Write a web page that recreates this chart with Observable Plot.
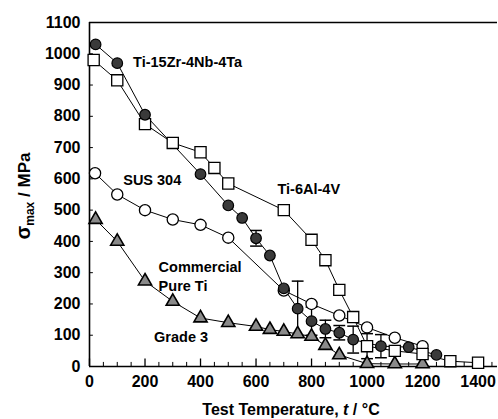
<!DOCTYPE html>
<html><head><meta charset="utf-8">
<script src="https://cdn.jsdelivr.net/npm/d3@7"></script>
<script src="https://cdn.jsdelivr.net/npm/@observablehq/plot@0.6"></script>
<style>
body{margin:0;background:#fff;}
#chart svg{display:block;}
</style></head><body><div id="chart"></div>
<script>
// ---- data ----
const tiZrT = [22,100,200,400,500,550,600,650,700,750,800,850,900,950,1050,1150,1250];
const tiZrS = [1030,970,805,615,515,475,410,355,250,185,145,120,108,86,65,62,37];
const tiZrErrT = [600,750,800,850,900,950,1050];
const tiZrErrV = [25,88,45,28,23,43,37];

const ti64T = [15,100,200,300,400,450,500,700,800,850,900,950,1000,1100,1200,1300,1400];
const ti64S = [980,915,775,715,685,635,585,500,405,340,245,158,65,50,40,17,12];
const ti64ErrT = [1000];
const ti64ErrV = [40];

const susT = [20,100,200,300,400,500,700,800,900,1000,1100,1200];
const susS = [618,550,500,470,453,412,243,200,163,125,92,65];

const cpT = [22,100,200,300,400,500,600,650,700,750,800,850,900,1000,1100,1200];
const cpS = [470,400,273,208,155,140,128,118,112,104,96,67,37,9,8,8];

const yTicks = [0,100,200,300,400,500,600,700,800,900,1000,1100];
const xMajor = [0,200,400,600,800,1000,1200,1400];
const xMinor = [50,100,150,250,300,350,450,500,550,650,700,750,850,900,950,1050,1100,1150,1250,1300,1350,1450];

const labelText = ["Ti-15Zr-4Nb-4Ta","Ti-6Al-4V","SUS 304","Commercial","Pure Ti","Grade 3"];
const labelT = [157,790,226,249,249,330];
const labelS = [971,565,595,318,257,94];
const labelAnchor = ["start","middle","middle","start","start","middle"];

const yTitle = ["σ","max"," / MPa"];
const xTitle = ["Test Temperature, ","t"," / °C"];

// ---- build ----
const mk = (T,S) => T.map((t,i)=>({t, s:S[i]}));
const tiZr = mk(tiZrT, tiZrS);
const ti64 = mk(ti64T, ti64S);
const sus = mk(susT, susS);
const cp = mk(cpT, cpS);
const errs = [
  ...tiZrErrT.map((t,i)=>({t, s: tiZrS[tiZrT.indexOf(t)], e: tiZrErrV[i]})),
  ...ti64ErrT.map((t,i)=>({t, s: ti64S[ti64T.indexOf(t)], e: ti64ErrV[i]}))
];
const labels = labelText.map((txt,i)=>({txt, t: labelT[i], s: labelS[i], a: labelAnchor[i]}));
const capSymbol = {draw(ctx, size){ const w = Math.sqrt(size)/1.2; ctx.moveTo(-w,0); ctx.lineTo(w,0);} };

const font = "'Liberation Sans', Arial, Helvetica, sans-serif";
const plot = Plot.plot({
  width: 498, height: 419,
  marginLeft: 89, marginRight: 1, marginTop: 22, marginBottom: 53,
  x: {domain: [0,1470]},
  y: {domain: [0,1100]},
  style: {fontFamily: font, fontWeight: "bold", fontSize: "16px", background: "white", color: "black"},
  marks: [
    Plot.ruleY([1100], {stroke: "black", strokeWidth: 1.6}),
    Plot.ruleX([0], {stroke: "black", strokeWidth: 1.6}),
    Plot.ruleY([0], {stroke: "black", strokeWidth: 1.6}),
    Plot.ruleY(yTicks, {y: d=>d, x1: 0, x2: 14, stroke: "black"}),
    Plot.ruleX(xMinor, {x: d=>d, y1: 0, y2: 13, stroke: "black"}),
    Plot.ruleX(xMajor, {x: d=>d, y1: 0, y2: 24, stroke: "black", strokeWidth: 1.3}),
    Plot.axisY({ticks: yTicks, tickFormat: d => String(d), tickSize: 0, tickPadding: 9, label: null, fontSize: 16}),
    Plot.axisX({ticks: xMajor, tickFormat: d => String(d), tickSize: 0, tickPadding: 9, label: null, fontSize: 16}),
    Plot.line(tiZr, {x: "t", y: "s", stroke: "black", strokeWidth: 1}),
    Plot.line(ti64, {x: "t", y: "s", stroke: "black", strokeWidth: 1}),
    Plot.line(sus, {x: "t", y: "s", stroke: "black", strokeWidth: 1}),
    Plot.line(cp, {x: "t", y: "s", stroke: "black", strokeWidth: 1}),
    Plot.ruleX(errs, {x: "t", y1: d=>d.s - d.e, y2: d=>d.s + d.e, stroke: "black", strokeWidth: 1.3}),
    Plot.dot(errs, {x: "t", y: d=>d.s + d.e, symbol: capSymbol, r: 4, stroke: "black", strokeWidth: 1.5}),
    Plot.dot(errs, {x: "t", y: d=>d.s - d.e, symbol: capSymbol, r: 4, stroke: "black", strokeWidth: 1.5}),
    Plot.dot(cp, {x: "t", y: "s", symbol: "triangle", r: 4.9, fill: "#8a8a8a", stroke: "black", strokeWidth: 1.6}),
    Plot.dot(sus, {x: "t", y: "s", symbol: "circle", r: 5.6, fill: "white", stroke: "black", strokeWidth: 1.3}),
    Plot.dot(ti64, {x: "t", y: "s", symbol: "square", r: 6.3, fill: "white", stroke: "black", strokeWidth: 1.3}),
    Plot.dot(tiZr, {x: "t", y: "s", symbol: "circle", r: 5.3, fill: "#3a3a3a", stroke: "black", strokeWidth: 1.2}),
    Plot.text(labels.filter(d => d.a === "start"), {x: "t", y: "s", text: "txt", textAnchor: "start", fontSize: 14.5, fontWeight: "bold", fill: "black"}),
    Plot.text(labels.filter(d => d.a === "middle"), {x: "t", y: "s", text: "txt", textAnchor: "middle", fontSize: 14.5, fontWeight: "bold", fill: "black"})
  ]
});
document.getElementById("chart").appendChild(plot);

const svg = d3.select(plot);
const yt = svg.append("text")
  .attr("transform", "translate(30,196) rotate(-90)")
  .attr("text-anchor", "middle")
  .attr("font-family", font).attr("font-weight", "bold").attr("font-size", 17).attr("fill", "black");
yt.append("tspan").attr("font-size", 20).text(yTitle[0]);
yt.append("tspan").attr("font-size", 12).attr("dy", 4).text(yTitle[1]);
yt.append("tspan").attr("dy", -4).text(yTitle[2]);

const xt = svg.append("text")
  .attr("x", 291).attr("y", 415)
  .attr("text-anchor", "middle")
  .attr("font-family", font).attr("font-weight", "bold").attr("font-size", 16).attr("fill", "black");
xt.append("tspan").text(xTitle[0]);
xt.append("tspan").attr("font-style", "italic").text(xTitle[1]);
xt.append("tspan").text(xTitle[2]);
</script></body></html>
